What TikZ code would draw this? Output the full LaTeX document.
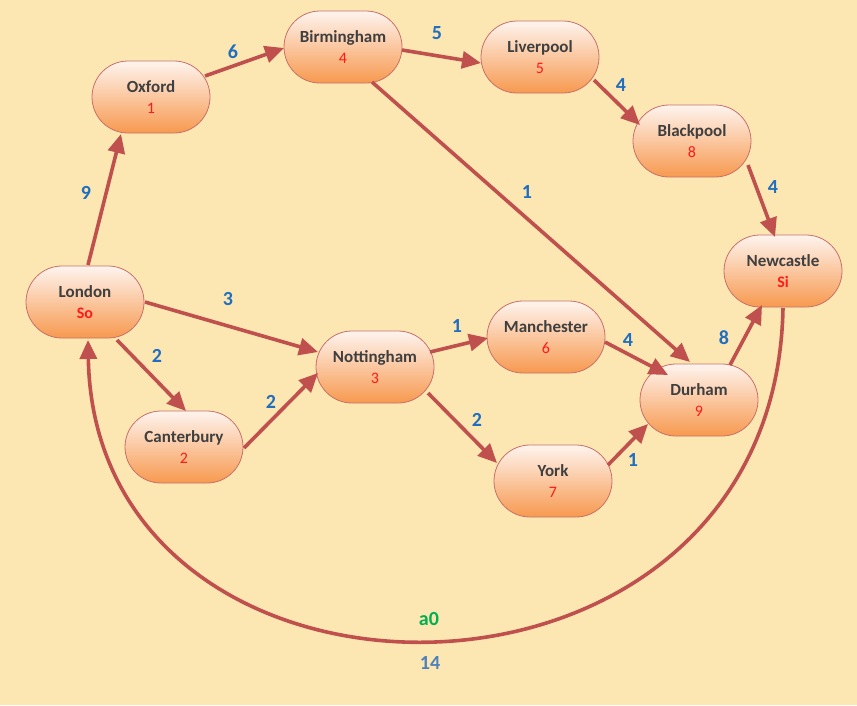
\documentclass[tikz,border=0pt]{standalone}
\usepackage{fontspec}
\setmainfont{Carlito}
\usetikzlibrary{shapes.misc,arrows.meta,calc}
\definecolor{bgc}{HTML}{FCE6B1}
\definecolor{edgec}{HTML}{C0504D}
\definecolor{bordc}{HTML}{C9706C}
\definecolor{nodetop}{HTML}{FEF4EE}
\definecolor{nodebot}{HTML}{F7994F}
\definecolor{namec}{HTML}{3F3F3F}
\definecolor{numc}{HTML}{FF1A1A}
\definecolor{labc}{HTML}{1F6EC0}
\definecolor{lab2c}{HTML}{4F81BD}
\definecolor{greenc}{HTML}{00B050}
\tikzset{
  city/.style={rounded rectangle, rounded rectangle arc length=180,
    minimum width=118pt, minimum height=72pt, inner sep=0pt,
    top color=nodetop, bottom color=nodebot, draw=bordc, line width=0.8pt,
    align=center, text=namec, font=\fontsize{17}{21}\selectfont\bfseries},
  road/.style={draw=edgec, line width=3.6pt, -{Triangle[length=19pt,width=17pt]}},
  wt/.style={text=labc, font=\fontsize{20}{23}\selectfont\bfseries, inner sep=1pt}
}
\newcommand{\cityname}[2]{#1\\[0pt]{\color{numc}\fontsize{16}{18}\selectfont\mdseries #2}}
\begin{document}
\begin{tikzpicture}[x=1pt,y=-1pt]
\fill[bgc] (0,0) rectangle (857,705);
\useasboundingbox (0,0) rectangle (857,705);

\node[city] (lon) at (85,302) {\cityname{London}{\bfseries So}};
\node[city] (oxf) at (151,97) {\cityname{Oxford}{1}};
\node[city] (bir) at (343,47) {\cityname{Birmingham}{4}};
\node[city] (liv) at (540,57) {\cityname{Liverpool}{5}};
\node[city] (bla) at (692,141) {\cityname{Blackpool}{8}};
\node[city] (new) at (783,271) {\cityname{Newcastle}{\bfseries Si}};
\node[city] (not) at (375,367) {\cityname{Nottingham}{3}};
\node[city] (man) at (546,337) {\cityname{Manchester}{6}};
\node[city] (can) at (184,447) {\cityname{Canterbury}{2}};
\node[city] (dur) at (699,400) {\cityname{Durham}{9}};
\node[city] (yor) at (553,481) {\cityname{York}{7}};

\draw[road] ($(lon)+(3,-37)$) -- ($(oxf)+(-30,37)$);
\draw[road] ($(oxf)+(54,-21)$) -- ($(bir)+(-59,1)$);
\draw[road] ($(bir)+(59,3)$) -- ($(liv)+(-59,6)$);
\draw[road] ($(liv)+(54,23)$) -- ($(bla)+(-52,-16)$);
\draw[road] ($(bla)+(56,24)$) -- ($(new)+(-8,-34)$);
\draw[road] ($(bir)+(29,35)$) -- ($(dur)+(-9,-38)$);
\draw[road] ($(lon)+(60,0)$) -- ($(not)+(-57,-15)$);
\draw[road] ($(lon)+(32,38)$) -- ($(can)+(2,-36)$);
\draw[road] ($(can)+(60,1)$) -- ($(not)+(-57,6)$);
\draw[road] ($(not)+(55,-15)$) -- ($(man)+(-58,1)$);
\draw[road] ($(not)+(53,26)$) -- ($(yor)+(-56,-18)$);
\draw[road] ($(man)+(59,5)$) -- ($(dur)+(-31,-25)$);
\draw[road] ($(yor)+(55,-16)$) -- ($(dur)+(-51,24)$);
\draw[road] ($(dur)+(31,-35)$) -- ($(new)+(-21,34)$);
\draw[road] ($(new)+(0,37)$) .. controls (775,745) and (95,745) .. ($(lon)+(3,38)$);

\node[wt] (w1) at (86,193) {9};
\node[wt] (w2) at (233,52) {6};
\node[wt] (w3) at (437,33) {5};
\node[wt] (w4) at (621,85) {4};
\node[wt] (w5) at (773,187) {4};
\node[wt] (w6) at (527,192) {1};
\node[wt] (w7) at (228,299) {3};
\node[wt] (w8) at (157,356) {2};
\node[wt] (w9) at (271,402) {2};
\node[wt] (w10) at (457,326) {1};
\node[wt] (w11) at (628,340) {4};
\node[wt] (w12) at (477,420) {2};
\node[wt] (w13) at (633,460) {1};
\node[wt] (w14) at (724,338) {8};
\node[wt, text=greenc] (wa) at (429,619) {a0};
\node[wt, text=lab2c] (w15) at (430,663) {14};
\end{tikzpicture}
\end{document}
